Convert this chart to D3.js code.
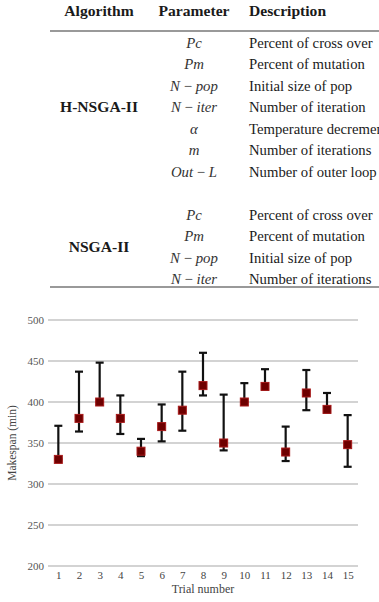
<!DOCTYPE html>
<html><head><meta charset="utf-8">
<script src="https://cdn.jsdelivr.net/npm/d3@7"></script>
<style>
html,body{margin:0;padding:0;background:#fff;overflow:hidden;}
svg{display:block;}
</style></head>
<body>
<script>
// ---- table data ----
const tableHeaders = ["Algorithm", "Parameter", "Description"];
const hAlgo = "H-NSGA-II";
const hParams = [["P","c"],["P","m"],["N − ","pop"],["N − ","iter"],["α",""],["m",""],["Out − ","L"]];
const hDescs = ["Percent of cross over","Percent of mutation","Initial size of pop","Number of iteration","Temperature decrement","Number of iterations","Number of outer loop"];
const nAlgo = "NSGA-II";
const nParams = [["P","c"],["P","m"],["N − ","pop"],["N − ","iter"]];
const nDescs = ["Percent of cross over","Percent of mutation","Initial size of pop","Number of iterations"];

// ---- chart data ----
const trials = [1,2,3,4,5,6,7,8,9,10,11,12,13,14,15];
const means  = [330,380,400,380,340,370,390,420,350,400,419,339,411,391,348];
const upper  = [371,437,448,408,355,397,437,460,409,423,440,370,439,411,384];
const lower  = [330,364,400,361,334,352,365,408,341,400,415,328,390,387,321];
const yTicks = [200,250,300,350,400,450,500];
const xLabel = "Trial number";
const yLabel = "Makespan (min)";

const W = 379, H = 602;
const svg = d3.select("body").append("svg").attr("width", W).attr("height", H);
const serif = "'Liberation Serif', 'DejaVu Serif', serif";

// ---- table ----
const tg = svg.append("g").attr("font-family", serif).attr("fill", "#1a1a1a");
const colX = {algo: 99, param: 194, desc: 249};
tg.selectAll("text.hdr").data(tableHeaders).join("text")
  .attr("class","hdr")
  .attr("x", (d,i) => [colX.algo, colX.param, colX.desc][i])
  .attr("y", 16)
  .attr("text-anchor", (d,i) => i < 2 ? "middle" : "start")
  .attr("font-weight", "bold").attr("font-size", 15.6)
  .text(d => d);
tg.append("line").attr("x1",50).attr("x2",W).attr("y1",31).attr("y2",31).attr("stroke","#777").attr("stroke-width",1.5);
tg.append("line").attr("x1",50).attr("x2",W).attr("y1",287).attr("y2",287).attr("stroke","#777").attr("stroke-width",1.5);

const rowY = d3.scaleLinear().domain([0,1]).range([47.5, 69]); // row step ~21.5
function block(params, descs, algo, startRow, algoRow) {
  const ys = params.map((d,i) => rowY(startRow + i));
  tg.append("text").attr("x", colX.algo).attr("y", rowY(algoRow))
    .attr("text-anchor","middle").attr("font-weight","bold").attr("font-size",15.6)
    .text(algo);
  params.forEach((p,i) => {
    const t = tg.append("text").attr("x", colX.param).attr("y", ys[i])
      .attr("text-anchor","middle").attr("font-size",14.8).attr("font-style","italic").attr("fill","#333");
    if (p[0].includes("−")) {
      const parts = p[0].split(" − ");
      t.append("tspan").text(parts[0]);
      t.append("tspan").attr("font-style","normal").text(" − ");
      t.append("tspan").text(p[1]);
    } else {
      t.text(p[0] + p[1]);
    }
  });
  descs.forEach((d,i) => {
    tg.append("text").attr("x", colX.desc).attr("y", ys[i]).attr("font-size",14.7).text(d);
  });
}
block(hParams, hDescs, hAlgo, 0, 3);
block(nParams, nDescs, nAlgo, 8, 9.5);

// ---- chart ----
const x = d3.scaleLinear().domain([0.5, 15.5]).range([48, 358]);
const y = d3.scaleLinear().domain([200, 500]).range([566, 320]);
const cg = svg.append("g").attr("font-family", serif);

cg.selectAll("line.grid").data(yTicks).join("line").attr("class","grid")
  .attr("x1", x(0.5)).attr("x2", x(15.5))
  .attr("y1", d => y(d)).attr("y2", d => y(d))
  .attr("stroke", "#c4c4c4").attr("stroke-width", 1.5);

const yAxis = d3.axisLeft(y).tickValues(yTicks).tickSize(0).tickPadding(4);
const ya = cg.append("g").attr("transform", `translate(${x(0.5)},0)`).call(yAxis);
ya.select(".domain").remove();
ya.selectAll("text").attr("font-family", serif).attr("font-size", 11).attr("fill", "#555");

const xAxis = d3.axisBottom(x).tickValues(trials).tickFormat(d3.format("d")).tickSize(0).tickPadding(5);
const xa = cg.append("g").attr("transform", `translate(0,${y(200)})`).call(xAxis);
xa.select(".domain").remove();
xa.selectAll("text").attr("font-family", serif).attr("font-size", 11).attr("fill", "#444");

cg.append("text").attr("x", 203).attr("y", 593).attr("text-anchor","middle")
  .attr("font-size", 12).attr("fill","#444").text(xLabel);
cg.append("text").attr("transform", `translate(16,${y(350)}) rotate(-90)`)
  .attr("text-anchor","middle").attr("font-size", 11.5).attr("fill","#444").text(yLabel);

const data = trials.map((t,i) => ({t, m: means[i], hi: upper[i], lo: lower[i]}));
const eg = cg.append("g");
eg.selectAll("line.bar").data(data).join("line")
  .attr("x1", d => x(d.t)).attr("x2", d => x(d.t))
  .attr("y1", d => y(d.hi)).attr("y2", d => y(d.lo))
  .attr("stroke", "#111").attr("stroke-width", 2.2);
eg.selectAll("line.capHi").data(data).join("line")
  .attr("x1", d => x(d.t) - 4).attr("x2", d => x(d.t) + 4)
  .attr("y1", d => y(d.hi)).attr("y2", d => y(d.hi))
  .attr("stroke", "#111").attr("stroke-width", 2.2);
eg.selectAll("line.capLo").data(data).join("line")
  .attr("x1", d => x(d.t) - 4).attr("x2", d => x(d.t) + 4)
  .attr("y1", d => y(d.lo)).attr("y2", d => y(d.lo))
  .attr("stroke", "#111").attr("stroke-width", 2.2);
eg.selectAll("rect").data(data).join("rect")
  .attr("x", d => x(d.t) - 4).attr("y", d => y(d.m) - 4)
  .attr("width", 8).attr("height", 8)
  .attr("fill", "#6e0000").attr("stroke", "#a81a1a").attr("stroke-width", 1);
</script>
</body></html>
